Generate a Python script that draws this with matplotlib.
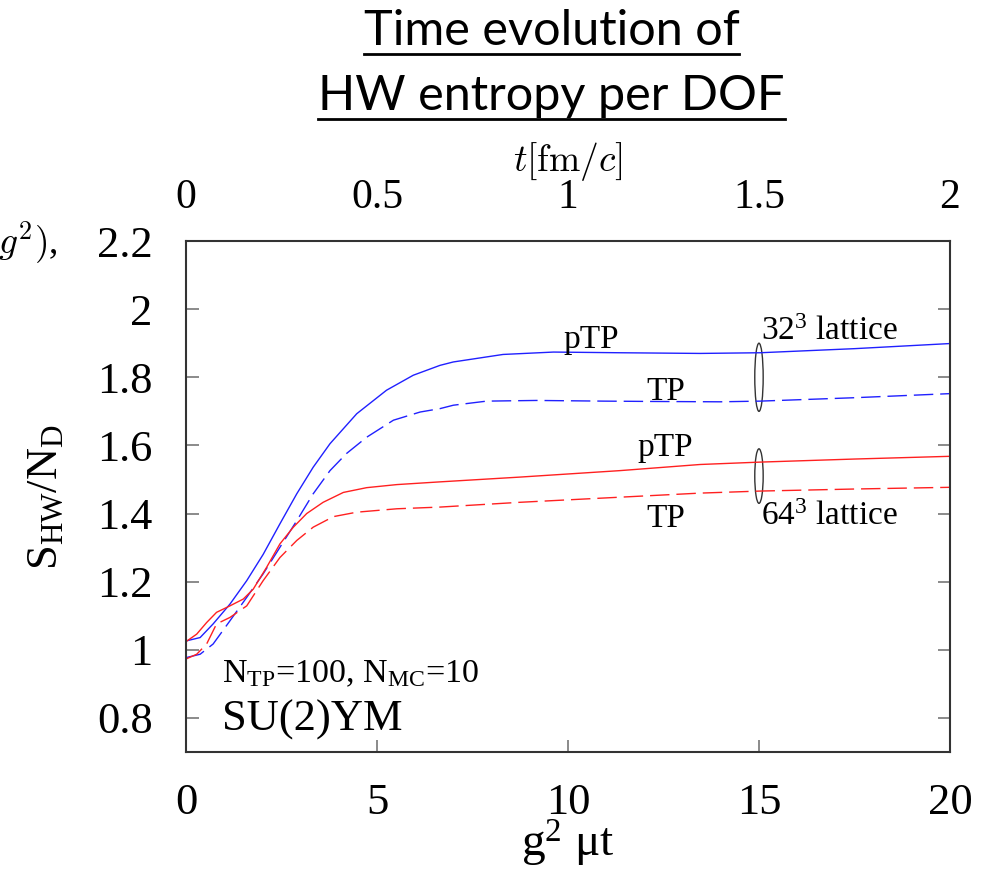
import numpy as np
import matplotlib
matplotlib.use('Agg')
import matplotlib.pyplot as plt
from matplotlib.patches import Ellipse
from matplotlib.lines import Line2D

# g^2 mu t values and S_HW/N_D
x_blue_ptp = [0.0, 0.37, 0.71, 1.15, 1.59, 2.02, 2.46, 2.9, 3.33, 3.77, 4.47, 5.25, 5.95, 6.65, 7.0, 8.3, 9.62, 11.36, 13.46, 15.03, 17.5, 20.0]
y_blue_ptp = [1.026, 1.036, 1.076, 1.134, 1.203, 1.28, 1.37, 1.458, 1.536, 1.605, 1.693, 1.762, 1.806, 1.835, 1.845, 1.867, 1.874, 1.872, 1.870, 1.872, 1.884, 1.899]

x_blue_tp = [0.0, 0.37, 0.71, 1.15, 1.59, 2.02, 2.46, 2.9, 3.33, 3.77, 4.2, 4.73, 5.43, 6.13, 6.65, 7.0, 7.87, 9.18, 10.92, 12.23, 13.98, 15.03, 17.5, 20.0]
y_blue_tp = [0.977, 0.987, 1.017, 1.085, 1.154, 1.223, 1.301, 1.379, 1.458, 1.526, 1.576, 1.624, 1.674, 1.698, 1.708, 1.718, 1.73, 1.732, 1.73, 1.729, 1.728, 1.73, 1.74, 1.752]

x_red_ptp = [0.0, 0.28, 0.54, 0.8, 1.15, 1.5, 1.76, 2.11, 2.46, 2.81, 3.16, 3.59, 4.12, 4.73, 5.52, 6.65, 8.74, 11.36, 13.46, 15.03, 17.5, 20.0]
y_red_ptp = [1.024, 1.046, 1.08, 1.11, 1.129, 1.149, 1.178, 1.242, 1.311, 1.36, 1.4, 1.433, 1.462, 1.476, 1.485, 1.493, 1.507, 1.526, 1.544, 1.551, 1.560, 1.568]

x_red_tp = [0.0, 0.28, 0.54, 0.8, 1.15, 1.59, 2.02, 2.46, 2.9, 3.33, 3.86, 4.47, 5.52, 6.65, 8.74, 11.36, 13.46, 15.03, 17.5, 20.0]
y_red_tp = [0.973, 0.987, 1.017, 1.076, 1.095, 1.129, 1.203, 1.271, 1.321, 1.36, 1.391, 1.404, 1.414, 1.419, 1.433, 1.448, 1.46, 1.466, 1.472, 1.477]

x_ticks = [0, 5, 10, 15, 20]
y_ticks = [0.8, 1.0, 1.2, 1.4, 1.6, 1.8, 2.0, 2.2]
y_tick_labels = ['0.8', '1', '1.2', '1.4', '1.6', '1.8', '2', '2.2']
t_ticks = [0, 0.5, 1, 1.5, 2]
t_tick_labels = ['0', '0.5', '1', '1.5', '2']

serif = 'Liberation Serif'
blue = '#2020ff'
red = '#ff2020'


def main():
    plt.rcParams['mathtext.fontset'] = 'custom'
    plt.rcParams['mathtext.rm'] = serif
    plt.rcParams['mathtext.it'] = serif + ':italic'

    fig = plt.figure(figsize=(9.83, 8.71), dpi=100)
    ax = fig.add_axes([0.1892, 0.1366, 0.7772, 0.5867])

    ax.plot(x_blue_ptp, y_blue_ptp, color=blue, lw=1.0)
    ax.plot(x_blue_tp, y_blue_tp, color=blue, lw=1.0, dashes=(14, 5))
    ax.plot(x_red_ptp, y_red_ptp, color=red, lw=1.0)
    ax.plot(x_red_tp, y_red_tp, color=red, lw=1.0, dashes=(14, 5))

    ax.set_xlim(0, 20)
    ax.set_ylim(0.7, 2.2)
    ax.set_xticks(x_ticks)
    ax.set_xticklabels([str(v) for v in x_ticks], fontfamily=serif, fontsize=32)
    ax.set_yticks(y_ticks)
    ax.set_yticklabels(y_tick_labels, fontfamily=serif, fontsize=32)
    ax.tick_params(direction='in', length=9, width=1.2, color='#777777',
                   right=True, top=False)
    ax.tick_params(axis='x', pad=22)
    ax.tick_params(axis='y', pad=24)
    for s in ax.spines.values():
        s.set_linewidth(1.5)
        s.set_color('#333333')

    ax.set_xlabel('g$^2$ \u03bct', fontfamily=serif, fontsize=34, labelpad=-3)
    ax.set_ylabel(r'S$_{\rm HW}$/N$_{\rm D}$', fontfamily=serif, fontsize=32, labelpad=22)

    # top axis in fm/c
    top = ax.twiny()
    top.set_xlim(0, 2)
    top.set_xticks(t_ticks)
    top.set_xticklabels(t_tick_labels, fontfamily=serif, fontsize=30)
    top.tick_params(direction='in', length=0, pad=17)
    top.set_xlabel(r'$t[\mathrm{fm}/c]$', fontsize=27, labelpad=6, math_fontfamily='cm')
    for s in top.spines.values():
        s.set_visible(False)

    # annotations
    tf = dict(fontfamily=serif, fontsize=24)
    ax.text(10.6, 1.91, 'pTP', ha='center', va='center', **tf)
    ax.text(12.55, 1.757, 'TP', ha='center', va='center', **tf)
    ax.text(12.55, 1.594, 'pTP', ha='center', va='center', **tf)
    ax.text(12.55, 1.385, 'TP', ha='center', va='center', **tf)
    ax.text(15.05, 1.935, r'32$^3$ lattice', ha='left', va='center', **tf)
    ax.text(15.05, 1.39, r'64$^3$ lattice', ha='left', va='center', **tf)
    ax.text(0.95, 0.93, r'N$_{\rm TP}$=100, N$_{\rm MC}$=10', ha='left', va='center',
            fontfamily=serif, fontsize=24.5)
    ax.text(0.95, 0.795, 'SU(2)YM', ha='left', va='center', fontfamily=serif, fontsize=32)

    ax.add_patch(Ellipse((15.0, 1.80), 0.22, 0.20, fill=False, lw=1.0, ec='#333333'))
    ax.add_patch(Ellipse((15.0, 1.51), 0.22, 0.16, fill=False, lw=1.0, ec='#333333'))

    # cut-off fragment on the left edge
    fig.text(58 / 983, 1 - 243 / 871, r'$(g^2)$,', ha='right', va='center',
             fontsize=27, family=serif, math_fontfamily='cm')

    # underlined title
    titles = [('Time evolution of', 1 - 31 / 871), ('HW entropy per DOF', 1 - 96 / 871)]
    fig.canvas.draw()
    r = fig.canvas.get_renderer()
    for txt, yy in titles:
        t = fig.text(0.561, yy, txt, ha='center', va='center', fontfamily='Lato', fontsize=35)
        bb = t.get_window_extent(renderer=r)
        yl = (bb.y0 - 1) / fig.bbox.height
        fig.add_artist(Line2D([bb.x0 / fig.bbox.width, bb.x1 / fig.bbox.width], [yl, yl],
                              transform=fig.transFigure, color='black', lw=2))

    fig.savefig('out.png', dpi=100)
    plt.close(fig)


if __name__ == "__main__":
    main()
